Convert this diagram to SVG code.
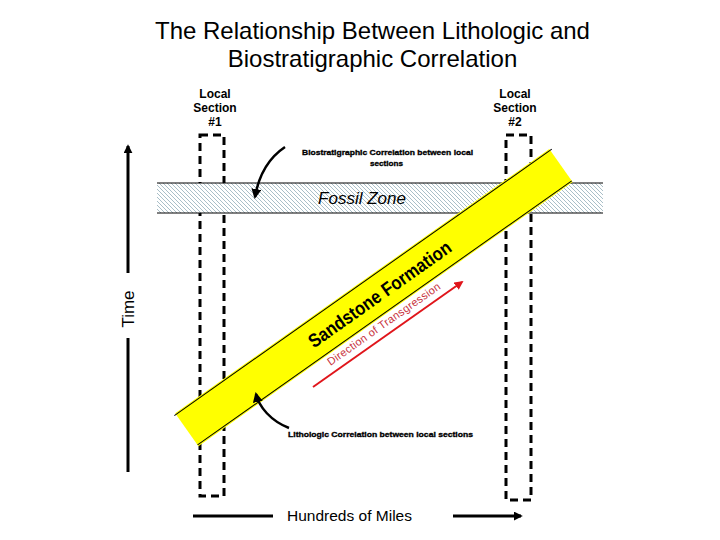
<svg xmlns="http://www.w3.org/2000/svg" width="720" height="540" viewBox="0 0 720 540">
  <style>
    text { font-family: "Liberation Sans", Arial, sans-serif; fill: #000; }
    .title { font-size: 24px; text-anchor: middle; }
    .sec { font-size: 12px; font-weight: bold; text-anchor: middle; }
    .note { font-size: 8px; font-weight: bold; stroke: #000; stroke-width: 0.35; }
    .dash { fill: none; stroke: #000; stroke-width: 3; stroke-dasharray: 8 5; }
    .thin { stroke: #000; stroke-width: 1; fill: none; }
    .axis { stroke: #000; stroke-width: 3; fill: none; }
    .curve { stroke: #000; stroke-width: 2.5; fill: none; marker-end: url(#blackHead); }
  </style>
  <defs>
    <pattern id="hatch" patternUnits="userSpaceOnUse" width="4" height="4">
      <rect width="4" height="4" fill="#ffffff"/>
      <path d="M-1,-1 L5,5 M-1,3 L1,5 M3,-1 L5,1" stroke="#a9bfc8" stroke-width="1"/>
    </pattern>
    <marker id="blackHead" viewBox="0 0 10 10" refX="8" refY="5" markerWidth="4" markerHeight="4" orient="auto" markerUnits="strokeWidth">
      <path d="M0,0 L10,5 L0,10 Z" fill="#000"/>
    </marker>
    <marker id="axisHead" viewBox="0 0 10 10" refX="8" refY="5" markerWidth="3" markerHeight="3" orient="auto" markerUnits="strokeWidth">
      <path d="M0,0 L10,5 L0,10 Z" fill="#000"/>
    </marker>
    <marker id="redHead" viewBox="0 0 10 10" refX="8" refY="5" markerWidth="4.5" markerHeight="4.5" orient="auto" markerUnits="strokeWidth">
      <path d="M0,0 L10,5 L0,10 Z" fill="#e0151b"/>
    </marker>
  </defs>
  <rect width="720" height="540" fill="#ffffff"/>

  <g id="title">
    <text class="title" x="372.5" y="39">The Relationship Between Lithologic and</text>
    <text class="title" x="372.5" y="67">Biostratigraphic Correlation</text>
  </g>

  <g id="section1">
    <text class="sec" x="215" y="98">Local</text>
    <text class="sec" x="215" y="112">Section</text>
    <text class="sec" x="215" y="126">#1</text>
    <rect class="dash" x="200" y="135" width="24" height="361"/>
  </g>

  <g id="section2">
    <text class="sec" x="515" y="98">Local</text>
    <text class="sec" x="515" y="112">Section</text>
    <text class="sec" x="515" y="126">#2</text>
    <rect class="dash" x="506" y="135" width="25" height="365"/>
  </g>

  <g id="fossil-zone">
    <rect x="157" y="183" width="446" height="30" fill="url(#hatch)"/>
    <line class="thin" x1="157" y1="183" x2="603" y2="183"/>
    <line class="thin" x1="157" y1="213" x2="603" y2="213"/>
    <text x="362" y="204" font-size="17" font-style="italic" text-anchor="middle">Fossil Zone</text>
  </g>

  <g id="sandstone-formation">
    <g transform="translate(176,414.4) rotate(-35.22)">
      <rect x="0" y="-1.5" width="458" height="40.4" fill="#ffff00"/>
      <line class="thin" x1="-2" y1="0" x2="460" y2="0"/>
      <line class="thin" x1="0" y1="37.4" x2="458" y2="37.4"/>
    </g>
    <text transform="translate(383.5,299.5) rotate(-35.22)" font-size="19" font-weight="bold" text-anchor="middle" textLength="170" lengthAdjust="spacingAndGlyphs">Sandstone Formation</text>
  </g>

  <g id="transgression">
    <text transform="translate(386,327) rotate(-35.1)" font-size="11" style="fill:#c8323c" text-anchor="middle" letter-spacing="0.3">Direction of Transgression</text>
  </g>

  <g id="biostrat-label">
    <text class="note" x="302" y="155" textLength="171" lengthAdjust="spacingAndGlyphs">Biostratigraphic Correlation between local</text>
    <text class="note" x="370" y="166" textLength="33" lengthAdjust="spacingAndGlyphs">sections</text>
  </g>

  <g id="litho-label">
    <text class="note" x="288" y="437" textLength="185" lengthAdjust="spacingAndGlyphs">Lithologic  Correlation between local sections</text>
  </g>

  <g id="time-axis">
    <line class="axis" x1="128" y1="472" x2="128" y2="338"/>
    <line class="axis" x1="128" y1="273" x2="128" y2="146" marker-end="url(#axisHead)"/>
    <text transform="translate(133.5,309) rotate(-90)" font-size="17" text-anchor="middle">Time</text>
  </g>

  <g id="distance-axis">
    <line class="axis" x1="193" y1="516" x2="273" y2="516"/>
    <line class="axis" x1="453" y1="516" x2="521" y2="516" marker-end="url(#axisHead)"/>
    <text x="349.5" y="521" font-size="15.5" text-anchor="middle">Hundreds of Miles</text>
  </g>

  <g id="connectors">
    <path class="curve" d="M285,147 C270,157 259,174 255,197"/>
    <path class="curve" d="M289,428 C271,421 259,407 256,394"/>
    <line x1="313" y1="387" x2="462" y2="282" stroke="#e0151b" stroke-width="2" marker-end="url(#redHead)"/>
  </g>
</svg>
